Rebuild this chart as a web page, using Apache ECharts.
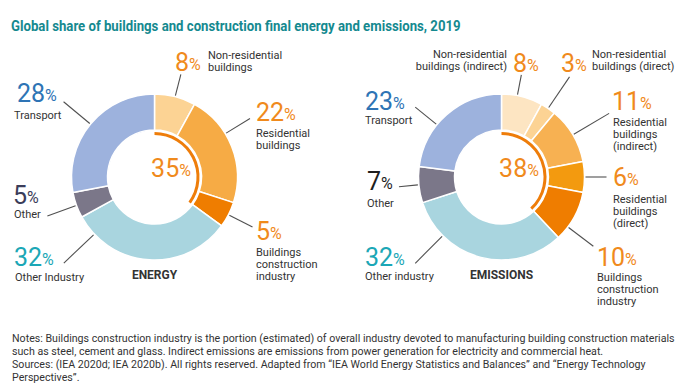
<!DOCTYPE html>
<html><head><meta charset="utf-8">
<script src="https://cdn.jsdelivr.net/npm/echarts@6/dist/echarts.min.js"></script>
<style>html,body{margin:0;padding:0;background:#fff}#c{width:681px;height:390px}</style>
</head><body><div id="c"></div>
<script>
// ---------- DATA ----------
const titleText = 'Global share of buildings and construction final energy and emissions, 2019';
const energyNames = ['Non-residential\nbuildings', 'Residential\nbuildings', 'Buildings\nconstruction\nindustry', 'Other Industry', 'Other', 'Transport'];
const energyValues = [8, 22, 5, 32, 5, 28];
const energyBuildingCount = 3; // first three slices are buildings-related
const emissionsNames = ['Non-residential\nbuildings (indirect)', 'Non-residential\nbuildings (direct)', 'Residential\nbuildings\n(indirect)', 'Residential\nbuildings\n(direct)', 'Buildings\nconstruction\nindustry', 'Other industry', 'Other', 'Transport'];
const emissionsValues = [8, 3, 11, 6, 10, 32, 7, 23];
const emissionsBuildingCount = 5;
const panelTitles = ['ENERGY', 'EMISSIONS'];
const notesLines = [
  'Notes: Buildings construction industry is the portion (estimated) of overall industry devoted to manufacturing building construction materials',
  'such as steel, cement and glass. Indirect emissions are emissions from power generation for electricity and commercial heat.',
  'Sources: (IEA 2020d; IEA 2020b). All rights reserved. Adapted from \u201cIEA World Energy Statistics and Balances\u201d and \u201cEnergy Technology',
  'Perspectives\u201d.'
];

// ---------- STYLE / LAYOUT ----------
const O = '#F08A1C', B = '#2E74B5', T = '#1BA7B6', D = '#3B3D5A', K = '#1E1E1E';
const energyColors = ['#FCD394', '#F6AB45', '#EF7D00', '#A9D5DF', '#7B7789', '#9DB2DD'];
const emissionsColors = ['#FDE5C2', '#FCD394', '#F7B152', '#F39A0F', '#EF7D00', '#A9D5DF', '#7B7789', '#9DB2DD'];
const energyPctColors = [O, O, O, T, D, B];
const emissionsPctColors = [O, O, O, O, O, T, K, B];
const energyCenter = [154.5, 177], emissionsCenter = [501.5, 177];
const ringRadius = [47, 83], arcRadius = [42, 45];
const lineStartGap = 1;
// leader line length and (optional) angle override in degrees clockwise from 12 o'clock
const energyLineLen = [22, 28, 26, 41, 30, 34];
const energyLineAngle = [null, 58.5, null, 226.5, 250, null];
const emissionsLineLen = [20, 37, 41, 21, 31, 38, 19, 27];
const emissionsLineAngle = [11, null, null, null, 127, 225, null, 309];
const energyPctPos = [[175, 62], [256, 112], [256, 231], [14, 257], [13, 195], [17, 93]];
const emissionsPctPos = [[513, 63], [561, 63], [612, 101], [613, 177], [597, 257], [365, 257], [367, 181], [365, 101]];
const energyNamePos = [[208, 49, 'left'], [256, 127, 'left'], [256, 246, 'left'], [15, 271, 'left'], [14, 208.5, 'left'], [14, 109, 'left']];
const emissionsNamePos = [[507, 48, 'right'], [592, 48, 'left'], [613, 116.5, 'left'], [613, 193.5, 'left'], [597, 271, 'left'], [365, 270, 'left'], [367, 197, 'left'], [365, 114, 'left']];

const FONT = 'Roboto';
const pctRich = {
  p: { fontSize: 25, lineHeight: 20, fontFamily: FONT },
  s: { fontSize: 16, lineHeight: 16, verticalAlign: 'bottom', fontFamily: FONT }
};

function midAngles(values) {
  const tot = values.reduce((a, b) => a + b, 0);
  let acc = 0;
  return values.map(v => { const m = (acc + v / 2) / tot * 360; acc += v; return m; });
}
function leaderLines(values, center, lineLen, lineAngle) {
  const mids = midAngles(values);
  return values.map((v, i) => {
    const ang = (lineAngle[i] != null ? lineAngle[i] : mids[i]) * Math.PI / 180;
    const r0 = ringRadius[1] + lineStartGap, r1 = r0 + lineLen[i];
    const s = Math.sin(ang), c = -Math.cos(ang);
    return {
      type: 'polyline', silent: true, z: 100,
      shape: { points: [[center[0] + r0 * s, center[1] + r0 * c], [center[0] + r1 * s, center[1] + r1 * c]] },
      style: { stroke: '#505050', lineWidth: 1.1, fill: null }
    };
  });
}

function pctSeries(values, names, colors, pctColors, center, pos) {
  return {
    type: 'pie', center: center, radius: ringRadius, startAngle: 90, clockwise: true,
    avoidLabelOverlap: false, silent: true, z: 2,
    itemStyle: { borderColor: '#fff', borderWidth: 1.5 },
    label: { show: true, position: 'outside', fontFamily: FONT,
      formatter: p => '{p|' + p.value + '}{s|%}', rich: pctRich },
    labelLine: { show: false },
    labelLayout: function (params) {
      const q = pos[params.dataIndex];
      return { x: q[0], y: q[1], align: 'left', verticalAlign: 'middle' };
    },
    data: values.map((v, i) => ({
      value: v, name: names[i],
      itemStyle: { color: colors[i] },
      label: { color: pctColors[i] }
    }))
  };
}
function nameSeries(values, names, center, pos) {
  return {
    type: 'pie', center: center, radius: ringRadius, startAngle: 90, clockwise: true,
    avoidLabelOverlap: false, silent: true, z: 1,
    itemStyle: { color: 'rgba(0,0,0,0)', borderWidth: 0 },
    label: { show: true, position: 'outside', formatter: '{b}', fontFamily: FONT,
      fontSize: 11, lineHeight: 12, color: '#333' },
    labelLine: { show: false },
    labelLayout: function (params) {
      const q = pos[params.dataIndex];
      return { x: q[0], y: q[1], align: q[2], verticalAlign: 'top' };
    },
    data: values.map((v, i) => ({ value: v, name: names[i] }))
  };
}
function arcSeries(values, count, center) {
  const total = values.slice(0, count).reduce((a, b) => a + b, 0);
  const all = values.reduce((a, b) => a + b, 0);
  return {
    type: 'pie', center: center, radius: arcRadius, startAngle: 90, clockwise: true,
    silent: true, label: { show: false }, labelLine: { show: false },
    itemStyle: { borderWidth: 0 },
    data: [
      { value: total, itemStyle: { color: '#EE7D0A' } },
      { value: all - total, itemStyle: { color: 'rgba(0,0,0,0)' } }
    ]
  };
}
function sumFirst(values, n) { return values.slice(0, n).reduce((a, b) => a + b, 0); }

const ctx = document.createElement('canvas').getContext('2d');
function measure(text, font) { ctx.font = font; return ctx.measureText(text).width; }
const titleScale = 450 / measure(titleText, 'bold 14px Roboto');
const notesScale = 663 / measure(notesLines[0], '11px Roboto');
const notesY = [338, 351, 364, 377];
const centerRich = { p: { fontSize: 25, lineHeight: 20, fontFamily: FONT, fill: O }, s: { fontSize: 16, lineHeight: 16, verticalAlign: 'bottom', fontFamily: FONT, fill: O } };

const graphics = [
  { type: 'text', x: 11, y: 26, scaleX: titleScale, style: { text: titleText, font: 'bold 14px Roboto', fill: '#14898F', align: 'left', verticalAlign: 'middle' } },
  { type: 'text', x: energyCenter[0] + 16.5, y: 168, style: { text: '{p|' + sumFirst(energyValues, energyBuildingCount) + '}{s|%}', rich: centerRich, align: 'center', verticalAlign: 'middle' } },
  { type: 'text', x: emissionsCenter[0] + 17.5, y: 168, style: { text: '{p|' + sumFirst(emissionsValues, emissionsBuildingCount) + '}{s|%}', rich: centerRich, align: 'center', verticalAlign: 'middle' } },
  { type: 'text', x: energyCenter[0], y: 275, style: { text: panelTitles[0], font: 'bold 12px Roboto', fill: '#333', align: 'center', verticalAlign: 'middle' } },
  { type: 'text', x: emissionsCenter[0], y: 275, style: { text: panelTitles[1], font: 'bold 12px Roboto', fill: '#333', align: 'center', verticalAlign: 'middle' } }
].concat(
  leaderLines(energyValues, energyCenter, energyLineLen, energyLineAngle),
  leaderLines(emissionsValues, emissionsCenter, emissionsLineLen, emissionsLineAngle)
);
notesLines.forEach((t, i) => graphics.push({ type: 'text', x: 12, y: notesY[i], scaleX: notesScale, style: { text: t, font: '11px Roboto', fill: '#333', align: 'left', verticalAlign: 'middle' } }));

const chart = echarts.init(document.getElementById('c'), null, { renderer: 'svg' });
chart.setOption({
  animation: false,
  backgroundColor: '#fff',
  graphic: graphics,
  series: [
    nameSeries(energyValues, energyNames, energyCenter, energyNamePos),
    pctSeries(energyValues, energyNames, energyColors, energyPctColors, energyCenter, energyPctPos),
    arcSeries(energyValues, energyBuildingCount, energyCenter),
    nameSeries(emissionsValues, emissionsNames, emissionsCenter, emissionsNamePos),
    pctSeries(emissionsValues, emissionsNames, emissionsColors, emissionsPctColors, emissionsCenter, emissionsPctPos),
    arcSeries(emissionsValues, emissionsBuildingCount, emissionsCenter)
  ]
});
</script></body></html>
